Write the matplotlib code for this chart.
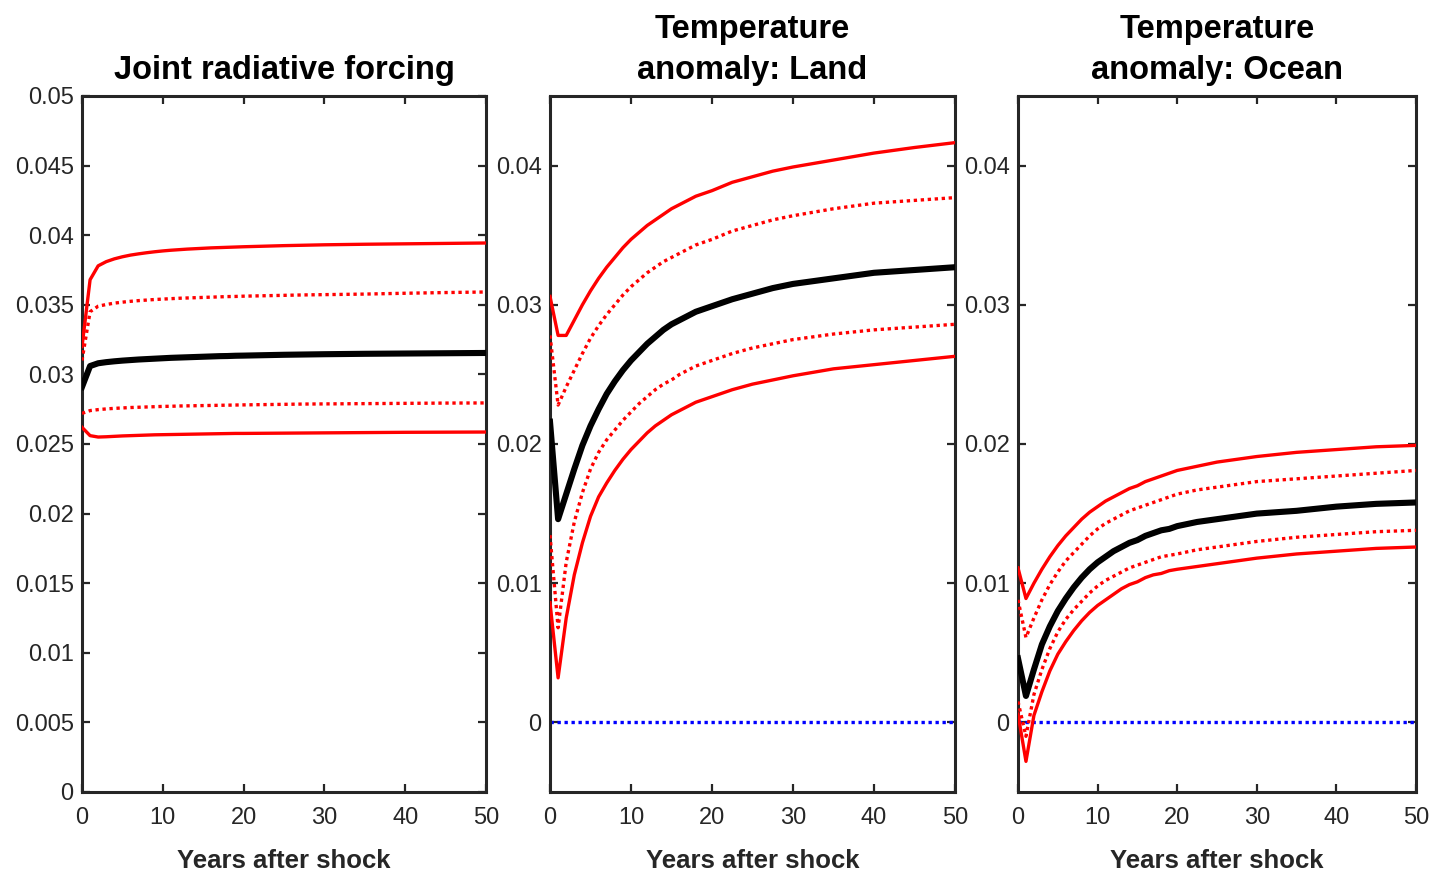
import matplotlib
matplotlib.use("Agg")
import matplotlib.pyplot as plt
from matplotlib.ticker import FixedLocator, FuncFormatter

plt.rcParams['font.family'] = ['Liberation Sans', 'DejaVu Sans']

# ---- data ----
years = [0, 1, 2, 3, 4, 5, 6, 7, 8, 9, 10, 11, 12, 13, 14, 15, 16, 17, 18, 19, 20,
         22.5, 25, 27.5, 30, 35, 40, 45, 50]

titles = ["Joint radiative forcing", "Temperature\nanomaly: Land", "Temperature\nanomaly: Ocean"]
xlabel = "Years after shock"

# Panel 1: joint radiative forcing
rf_median = [0.0291, 0.0306, 0.03080, 0.03088, 0.03094, 0.03099, 0.03103, 0.03107, 0.03110, 0.03113,
             0.03116, 0.03119, 0.03121, 0.03123, 0.03125, 0.03127, 0.03129, 0.03131, 0.03132, 0.03134,
             0.03135, 0.03138, 0.03141, 0.03143, 0.03145, 0.03148, 0.03150, 0.03152, 0.03154]
rf_hi95 = [0.0320, 0.0368, 0.0378, 0.03810, 0.03830, 0.03845, 0.03857, 0.03866, 0.03874, 0.03881,
           0.03887, 0.03892, 0.03896, 0.03900, 0.03903, 0.03906, 0.03909, 0.03911, 0.03913, 0.03915,
           0.03917, 0.03921, 0.03925, 0.03928, 0.03931, 0.03935, 0.03938, 0.03941, 0.03944]
rf_hi68 = [0.0310, 0.0345, 0.0349, 0.03502, 0.03512, 0.03519, 0.03525, 0.03530, 0.03534, 0.03538,
           0.03541, 0.03544, 0.03547, 0.03549, 0.03551, 0.03553, 0.03555, 0.03557, 0.03559, 0.03560,
           0.03562, 0.03565, 0.03568, 0.03571, 0.03573, 0.03577, 0.03583, 0.03588, 0.03592]
rf_lo68 = [0.0272, 0.0274, 0.02747, 0.02752, 0.02756, 0.02759, 0.02762, 0.02764, 0.02766, 0.02768,
           0.02770, 0.02771, 0.02773, 0.02774, 0.02775, 0.02776, 0.02777, 0.02778, 0.02779, 0.02780,
           0.02781, 0.02783, 0.02785, 0.02787, 0.02788, 0.02790, 0.02792, 0.02794, 0.02795]
rf_lo95 = [0.0262, 0.0256, 0.02550, 0.02552, 0.02555, 0.02558, 0.02560, 0.02562, 0.02564, 0.02566,
           0.02567, 0.02568, 0.02569, 0.02570, 0.02571, 0.02572, 0.02573, 0.02574, 0.02575, 0.02576,
           0.02576, 0.02577, 0.02578, 0.02579, 0.02580, 0.02582, 0.02584, 0.02585, 0.02586]

# Panel 2: temperature anomaly, land
land_median = [0.0216, 0.0146, 0.0164, 0.0182, 0.0199, 0.0213, 0.0225, 0.0236, 0.0245, 0.0253,
               0.0260, 0.0266, 0.0272, 0.0277, 0.0282, 0.0286, 0.0289, 0.0292, 0.0295, 0.0297,
               0.0299, 0.0304, 0.0308, 0.0312, 0.0315, 0.0319, 0.0323, 0.0325, 0.0327]
land_hi95 = [0.0306, 0.0278, 0.0278, 0.0289, 0.0300, 0.0310, 0.0319, 0.0327, 0.0334, 0.0341,
             0.0347, 0.0352, 0.0357, 0.0361, 0.0365, 0.0369, 0.0372, 0.0375, 0.0378, 0.0380,
             0.0382, 0.0388, 0.0392, 0.0396, 0.0399, 0.0404, 0.0409, 0.0413, 0.04165]
land_hi68 = [0.0278, 0.0228, 0.0241, 0.0253, 0.0265, 0.0276, 0.0285, 0.0293, 0.0300, 0.0307,
             0.0313, 0.0318, 0.0323, 0.0327, 0.0331, 0.0334, 0.0337, 0.0340, 0.0343, 0.0345,
             0.0347, 0.0353, 0.0357, 0.0361, 0.0364, 0.0369, 0.0373, 0.0375, 0.0377]
land_lo68 = [0.01345, 0.0068, 0.0115, 0.0144, 0.0165, 0.0182, 0.0194, 0.0203, 0.0210, 0.0217,
             0.0223, 0.0229, 0.0234, 0.0239, 0.0243, 0.0246, 0.0250, 0.0253, 0.0256, 0.0258,
             0.0260, 0.0265, 0.0269, 0.0272, 0.0275, 0.0279, 0.0282, 0.0284, 0.0286]
land_lo95 = [0.0086, 0.0032, 0.0075, 0.0106, 0.0129, 0.0148, 0.0162, 0.0172, 0.0181, 0.0189,
             0.0196, 0.0202, 0.0208, 0.0213, 0.0217, 0.0221, 0.0224, 0.0227, 0.0230, 0.0232,
             0.0234, 0.0239, 0.0243, 0.0246, 0.0249, 0.0254, 0.0257, 0.0260, 0.0263]

# Panel 3: temperature anomaly, ocean
ocean_median = [0.0046, 0.0019, 0.0038, 0.0056, 0.0069, 0.0080, 0.0089, 0.0097, 0.0104, 0.0110,
                0.0115, 0.0119, 0.0123, 0.0126, 0.0129, 0.0131, 0.0134, 0.0136, 0.0138, 0.0139,
                0.0141, 0.0144, 0.0146, 0.0148, 0.0150, 0.0152, 0.0155, 0.0157, 0.0158]
ocean_hi95 = [0.0111, 0.0089, 0.0100, 0.0110, 0.0119, 0.0127, 0.0134, 0.0140, 0.0146, 0.0151,
              0.0155, 0.0159, 0.0162, 0.0165, 0.0168, 0.0170, 0.0173, 0.0175, 0.0177, 0.0179,
              0.0181, 0.0184, 0.0187, 0.0189, 0.0191, 0.0194, 0.0196, 0.0198, 0.0199]
ocean_hi68 = [0.0088, 0.0061, 0.0075, 0.0088, 0.0099, 0.0108, 0.0116, 0.0122, 0.0128, 0.0134,
              0.0139, 0.0143, 0.0146, 0.0149, 0.0152, 0.0154, 0.0156, 0.0158, 0.0160, 0.0162,
              0.0164, 0.0167, 0.0169, 0.0171, 0.0173, 0.0175, 0.0177, 0.0179, 0.0181]
ocean_lo68 = [0.0015, -0.0010, 0.0020, 0.0038, 0.0053, 0.0065, 0.0074, 0.0081, 0.0087, 0.0093,
              0.0098, 0.0102, 0.0105, 0.0108, 0.0111, 0.0113, 0.0115, 0.0117, 0.0119, 0.0120,
              0.0121, 0.0124, 0.0126, 0.0128, 0.0130, 0.0133, 0.0135, 0.0137, 0.0138]
ocean_lo95 = [0.0006, -0.0028, 0.0005, 0.0022, 0.0037, 0.0049, 0.0058, 0.0066, 0.0073, 0.0079,
              0.0084, 0.0088, 0.0092, 0.0096, 0.0099, 0.0101, 0.0104, 0.0106, 0.0107, 0.0109,
              0.0110, 0.0112, 0.0114, 0.0116, 0.0118, 0.0121, 0.0123, 0.0125, 0.0126]

zero_x = [0, 50]
zero_y = [0, 0]

panels = [
    (rf_median, rf_hi95, rf_hi68, rf_lo68, rf_lo95, False),
    (land_median, land_hi95, land_hi68, land_lo68, land_lo95, True),
    (ocean_median, ocean_hi95, ocean_hi68, ocean_lo68, ocean_lo95, True),
]

ylims = [(0, 0.05), (-0.005, 0.045), (-0.005, 0.045)]
yticks = [[i * 0.005 for i in range(11)], [0, 0.01, 0.02, 0.03, 0.04], [0, 0.01, 0.02, 0.03, 0.04]]
xticks = [0, 10, 20, 30, 40, 50]

# ---- figure ----
fig = plt.figure(figsize=(14.34, 8.76), dpi=100)
fig.patch.set_facecolor('white')
H = 876.0
W = 1434.0
boxes = [(82, 486), (550, 955), (1018, 1416)]
top_px, bot_px = 96, 792

txtc = '#262626'
fmt = FuncFormatter(lambda v, p: ('%g' % round(v, 6)))
dot = (0, (1, 1.1))

for i, (med, hi95, hi68, lo68, lo95, zero) in enumerate(panels):
    l, r = boxes[i]
    ax = fig.add_axes([l / W, 1 - bot_px / H, (r - l) / W, (bot_px - top_px) / H])
    if zero:
        ax.plot(zero_x, zero_y, color='#0000ff', lw=2.4, ls=dot, zorder=2)
    ax.plot(years, hi95, color='#ff0000', lw=2.4, zorder=3)
    ax.plot(years, lo95, color='#ff0000', lw=2.4, zorder=3)
    ax.plot(years, hi68, color='#ff0000', lw=2.4, ls=dot, zorder=3)
    ax.plot(years, lo68, color='#ff0000', lw=2.4, ls=dot, zorder=3)
    ax.plot(years, med, color='black', lw=4.4, zorder=4)

    ax.set_xlim(0, 50)
    ax.set_ylim(*ylims[i])
    ax.xaxis.set_major_locator(FixedLocator(xticks))
    ax.yaxis.set_major_locator(FixedLocator(yticks[i]))
    ax.xaxis.set_major_formatter(fmt)
    ax.yaxis.set_major_formatter(fmt)
    ax.tick_params(direction='in', length=6, width=1.6, top=True, right=True,
                   labelsize=17, colors=txtc, pad=6)
    ax.tick_params(axis='x', pad=11)
    for s in ax.spines.values():
        s.set_linewidth(2.2)
        s.set_color(txtc)
    ax.set_title(titles[i], fontsize=23.5, fontweight='bold', color='black',
                 pad=12, linespacing=1.45)
    ax.set_xlabel(xlabel, fontsize=18.5, fontweight='bold', color=txtc, labelpad=14)

fig.savefig('out.png', dpi=100, facecolor='white')
